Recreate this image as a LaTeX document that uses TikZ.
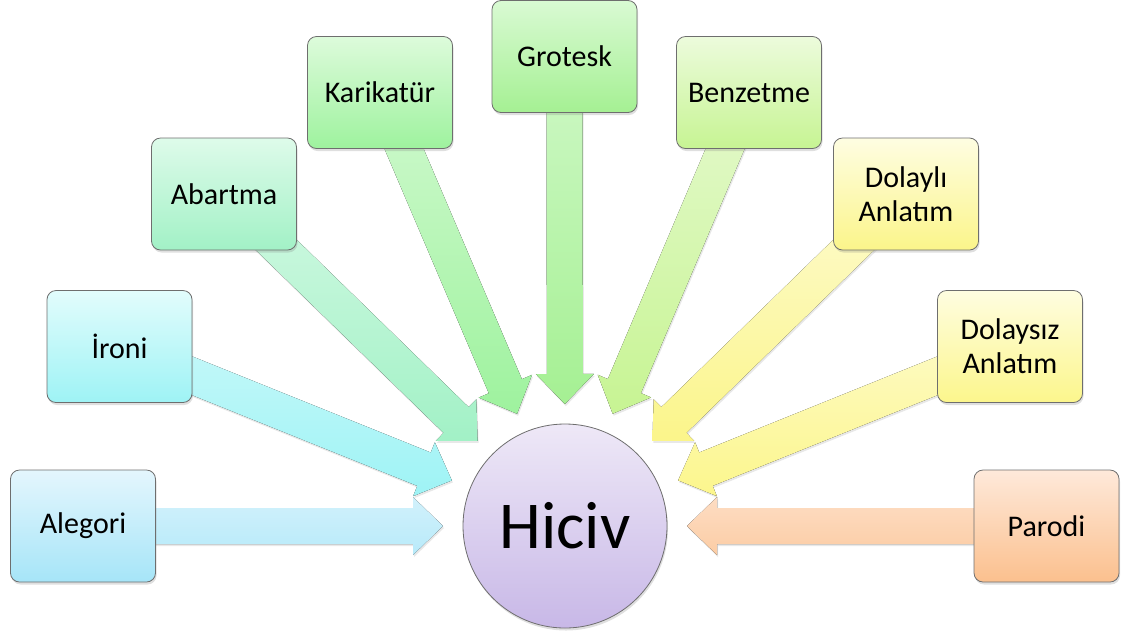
\documentclass[tikz,border=0pt]{standalone}
\usepackage{fontspec}
\setmainfont{Carlito}
\usetikzlibrary{calc,shadows}
\pgfdeclarelayer{background}
\pgfsetlayers{background,main}
\definecolor{aleT}{HTML}{E4F6FD}\definecolor{aleB}{HTML}{A6E5F8}
\definecolor{iroT}{HTML}{E2FCFC}\definecolor{iroB}{HTML}{9EF3F5}
\definecolor{abaT}{HTML}{DEFBEA}\definecolor{abaB}{HTML}{A2F1C6}
\definecolor{karT}{HTML}{DDFBDB}\definecolor{karB}{HTML}{9EF29E}
\definecolor{groT}{HTML}{D9FAD3}\definecolor{groB}{HTML}{A5F093}
\definecolor{benT}{HTML}{ECFBDC}\definecolor{benB}{HTML}{C7F493}
\definecolor{dolT}{HTML}{FEFDE2}\definecolor{dolB}{HTML}{FBF58A}
\definecolor{dozT}{HTML}{FEFDE0}\definecolor{dozB}{HTML}{FCF68C}
\definecolor{parT}{HTML}{FEE9DA}\definecolor{parB}{HTML}{FBC08E}
\definecolor{hicT}{HTML}{EEE8F7}\definecolor{hicB}{HTML}{C8B8E7}
\definecolor{edge}{HTML}{6E6E6E}
\tikzset{
  termbox/.style={draw=edge, line width=0.8pt, rounded corners=9pt,
    minimum width=145pt, minimum height=112pt, inner sep=2pt,
    align=center, font=\fontsize{30}{34}\selectfont,
    drop shadow={opacity=0.25, shadow xshift=1pt, shadow yshift=-2.5pt}},
  hubnode/.style={circle, draw=edge, line width=0.8pt, minimum size=204pt,
    inner sep=0pt, font=\fontsize{67}{70}\selectfont,
    top color=hicT, bottom color=hicB,
    drop shadow={opacity=0.25, shadow xshift=1pt, shadow yshift=-2.5pt}},
  arrowshape/.style={draw=none,
    drop shadow={opacity=0.18, shadow xshift=1pt, shadow yshift=-2pt}}
}
% block arrow from node #1 towards node #2, colours #3 (top) and #4 (bottom)
\newcommand\blockarrow[4]{%
  \coordinate (tip) at ($(#2.center)!122pt!(#1.center)$);
  \coordinate (hb) at ($(#2.center)!152pt!(#1.center)$);
  \fill[arrowshape, top color=#3, bottom color=#4]
    ($(#1.center)!18pt!90:(tip)$) -- ($(hb)!18pt!90:(tip)$)
    -- ($(hb)!29pt!90:(tip)$) -- (tip) -- ($(hb)!29pt!-90:(tip)$)
    -- ($(hb)!18pt!-90:(tip)$) -- ($(#1.center)!18pt!-90:(tip)$) -- cycle;
}
\begin{document}
\begin{tikzpicture}[x=1pt,y=-1pt]
\useasboundingbox (0,0) rectangle (1127,633);
\node[hubnode] (hiciv) at (565,526) {Hiciv};
\node[termbox, top color=aleT, bottom color=aleB] (alegori) at (83,526) {Alegori};
\node[termbox, top color=iroT, bottom color=iroB] (ironi) at (119.5,346.5) {İroni};
\node[termbox, top color=abaT, bottom color=abaB] (abartma) at (224,194) {Abartma};
\node[termbox, top color=karT, bottom color=karB] (karikatur) at (380,92.5) {Karikatür};
\node[termbox, top color=groT, bottom color=groB] (grotesk) at (564.5,56.5) {Grotesk};
\node[termbox, top color=benT, bottom color=benB] (benzetme) at (749,92.5) {Benzetme};
\node[termbox, top color=dolT, bottom color=dolB] (dolayli) at (906,194) {Dolaylı\\Anlatım};
\node[termbox, top color=dozT, bottom color=dozB] (dolaysiz) at (1010,346.5) {Dolaysız\\Anlatım};
\node[termbox, top color=parT, bottom color=parB] (parodi) at (1046.5,526) {Parodi};
\begin{pgfonlayer}{background}
\blockarrow{alegori}{hiciv}{aleT!70!aleB}{aleB!80!white}
\blockarrow{ironi}{hiciv}{iroT!60!iroB}{iroB}
\blockarrow{abartma}{hiciv}{abaT!80!abaB}{abaB}
\blockarrow{karikatur}{hiciv}{karT!80!karB}{karB}
\blockarrow{grotesk}{hiciv}{groT!80!groB}{groB}
\blockarrow{benzetme}{hiciv}{benT!80!benB}{benB}
\blockarrow{dolayli}{hiciv}{dolT!80!dolB}{dolB}
\blockarrow{dolaysiz}{hiciv}{dozT!70!dozB}{dozB}
\blockarrow{parodi}{hiciv}{parT!70!parB}{parB!80!white}
\end{pgfonlayer}
\end{tikzpicture}
\end{document}
